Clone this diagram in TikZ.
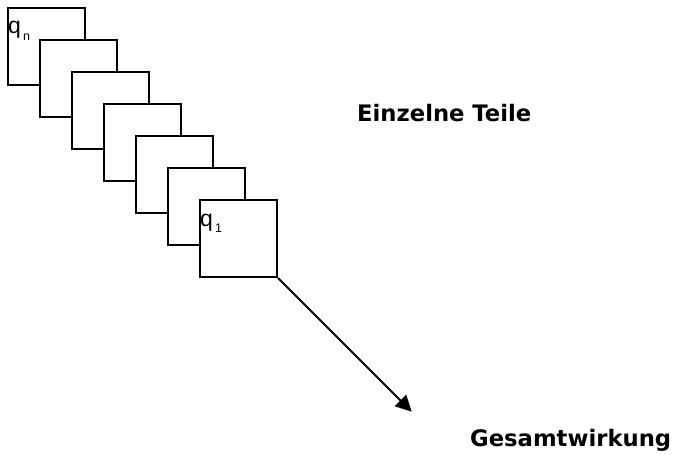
\documentclass[tikz,border=0pt]{standalone}
\usepackage{fontspec}
\setmainfont{Liberation Sans}
\newfontfamily\labelfont{DejaVu Sans}
\usetikzlibrary{arrows.meta}
\newcommand{\qsub}[1]{q\raisebox{-6.5pt}{\fontsize{12.5}{12.5}\selectfont\,#1}}
\tikzset{
    card/.style = {draw=black, fill=white, line width=2pt, rectangle, minimum size=77pt, inner sep=0pt},
    card-label/.style = {anchor=base west, inner sep=0pt, font=\fontsize{23}{23}\selectfont},
    caption/.style = {anchor=base west, inner sep=0pt, font=\labelfont\bfseries\fontsize{22.7}{22.7}\selectfont},
}

\begin{document}
\begin{tikzpicture}[x=1pt, y=-1pt]
\useasboundingbox (0,0) rectangle (680,455);
\foreach \i in {0,...,6}
    \node [card] (card\i) at (46.5+32*\i, 46.5+32*\i) {};
\node [card-label] (qn) at ([xshift=1pt, yshift=-27pt]card0.north west) {\qsub{n}};
\node [card-label] (q1) at ([xshift=1pt, yshift=-27pt]card6.north west) {\qsub{1}};
\coordinate (tip) at (411.7, 411.7);
\draw [line width=1.8pt, -{Triangle[length=16pt, width=16pt]}] (card6.south east) -- (tip);
\node [caption] (parts) at (357, 121.7) {Einzelne Teile};
\node [caption] (total) at (470, 446.7) {Gesamtwirkung};
\end{tikzpicture}
\end{document}
